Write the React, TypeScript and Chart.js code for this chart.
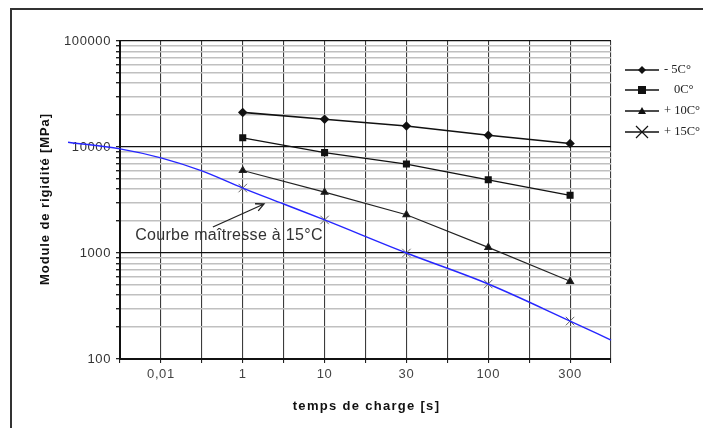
import React, { useEffect, useRef } from "react";
import { Chart, registerables } from "chart.js";

Chart.register(...registerables);

// x axis: evenly spaced positions 0..12, labels on odd positions
const xTickIndex = [1, 3, 5, 7, 9, 11];
const xTickLabels = ["0,01", "1", "10", "30", "100", "300"];

// load times 1, 10, 30, 100, 300 s
const timeIndex = [3, 5, 7, 9, 11];
const seriesMinus5 = [21200, 18300, 15800, 12900, 10800];
const seriesZero = [12200, 8850, 6900, 4900, 3500];
const seriesPlus10 = [6000, 3750, 2300, 1130, 540];
const seriesPlus15 = [4100, 2050, 1000, 510, 228];

// master curve at 15°C
const masterIndex = [-1.27, 0, 1, 2, 3, 4, 5, 7, 9, 11, 12];
const masterValues = [11100, 9600, 7900, 5950, 4100, 2900, 2050, 1000, 510, 228, 151];

const yDecades = [100, 1000, 10000, 100000];
const yDecadeLabels = ["100", "1000", "10000", "100000"];

const legendNames = ["- 5C°", "0C°", "+ 10C°", "+ 15C°"];

const SANS = '"Liberation Sans", Arial, sans-serif';
const SERIF = '"Liberation Serif", "Times New Roman", serif';

function pts(xs: number[], ys: number[]) {
  return xs.map((x, i) => ({ x, y: ys[i] }));
}

function drawMarker(ctx: CanvasRenderingContext2D, kind: string, x: number, y: number) {
  ctx.beginPath();
  if (kind === "diamond") {
    ctx.moveTo(x, y - 4); ctx.lineTo(x + 4, y); ctx.lineTo(x, y + 4); ctx.lineTo(x - 4, y); ctx.closePath(); ctx.fill();
  } else if (kind === "square") {
    ctx.fillRect(x - 4, y - 4, 8, 8);
  } else if (kind === "triangle") {
    ctx.moveTo(x, y - 4); ctx.lineTo(x + 4, y + 3); ctx.lineTo(x - 4, y + 3); ctx.closePath(); ctx.fill();
  } else {
    ctx.lineWidth = 1.2;
    ctx.moveTo(x - 6, y - 6); ctx.lineTo(x + 6, y + 6); ctx.moveTo(x + 6, y - 6); ctx.lineTo(x - 6, y + 6); ctx.stroke();
  }
}

const spacingPlugin = {
  id: "spacing",
  beforeDraw(chart: any) {
    (chart.ctx as any).letterSpacing = "0.6px";
  },
};

const overlayPlugin = {
  id: "overlay",
  afterDraw(chart: any) {
    const ctx: any = chart.ctx;
    const xs = chart.scales.x;
    const ys = chart.scales.y;
    ctx.save();
    // outer frame
    ctx.strokeStyle = "#333";
    ctx.lineWidth = 2;
    ctx.strokeRect(11, 9, 900, 700);

    // axis titles
    ctx.fillStyle = "#111";
    ctx.font = "bold 13px " + SANS;
    ctx.textAlign = "center";
    ctx.textBaseline = "middle";
    ctx.letterSpacing = "1.3px";
    ctx.fillText("temps de charge [s]", (chart.chartArea.left + chart.chartArea.right) / 2 + 1, 406);
    ctx.letterSpacing = "0.9px";
    ctx.save();
    ctx.translate(45, (chart.chartArea.top + chart.chartArea.bottom) / 2 - 1);
    ctx.rotate(-Math.PI / 2);
    ctx.fillText("Module de rigidité [MPa]", 0, 0);
    ctx.restore();

    // annotation
    ctx.letterSpacing = "0.3px";
    ctx.fillStyle = "#333";
    ctx.font = "16px " + SANS;
    ctx.textAlign = "left";
    ctx.fillText("Courbe maîtresse à 15°C", xs.getPixelForValue(0.37), ys.getPixelForValue(1447));
    const tx = xs.getPixelForValue(2.27), ty = ys.getPixelForValue(1760);
    const hx = xs.getPixelForValue(3.52), hy = ys.getPixelForValue(2900);
    const ang = Math.atan2(hy - ty, hx - tx);
    ctx.strokeStyle = "#222";
    ctx.lineWidth = 1.3;
    ctx.beginPath();
    ctx.moveTo(tx, ty); ctx.lineTo(hx, hy);
    ctx.moveTo(hx - 9 * Math.cos(ang - 0.45), hy - 9 * Math.sin(ang - 0.45));
    ctx.lineTo(hx, hy);
    ctx.lineTo(hx - 9 * Math.cos(ang + 0.45), hy - 9 * Math.sin(ang + 0.45));
    ctx.stroke();

    // legend
    ctx.letterSpacing = "0px";
    const kinds = ["diamond", "square", "triangle", "x"];
    const ly = [70, 90, 111, 132];
    const textX = [664, 674, 664, 664];
    ctx.font = "12.5px " + SERIF;
    ctx.textAlign = "left";
    ctx.textBaseline = "middle";
    for (let i = 0; i < 4; i++) {
      ctx.strokeStyle = "#111";
      ctx.fillStyle = "#111";
      ctx.lineWidth = 1.5;
      ctx.beginPath();
      ctx.moveTo(625, ly[i]); ctx.lineTo(659, ly[i]); ctx.stroke();
      drawMarker(ctx, kinds[i], 642, ly[i]);
      ctx.fillStyle = "#222";
      ctx.fillText(legendNames[i], textX[i], ly[i]);
    }
    ctx.restore();
  },
};

export default function App() {
  const ref = useRef<HTMLCanvasElement | null>(null);
  useEffect(() => {
    if (!ref.current) return;
    const isDecade = (v: number) => Math.abs(Math.log10(v) - Math.round(Math.log10(v))) < 1e-6;
    const chart = new Chart(ref.current, {
      type: "line",
      data: {
        datasets: [
          {
            label: "- 5C°",
            data: pts(timeIndex, seriesMinus5),
            borderColor: "#111",
            backgroundColor: "#111",
            borderWidth: 1.6,
            pointStyle: "rectRot",
            pointRadius: 3.6,
            tension: 0,
          },
          {
            label: "0C°",
            data: pts(timeIndex, seriesZero),
            borderColor: "#111",
            backgroundColor: "#111",
            borderWidth: 1.4,
            pointStyle: "rect",
            pointRadius: 4,
            tension: 0,
          },
          {
            label: "+ 10C°",
            data: pts(timeIndex, seriesPlus10),
            borderColor: "#222",
            backgroundColor: "#111",
            borderWidth: 1.1,
            pointStyle: "triangle",
            pointRadius: 4,
            tension: 0,
          },
          {
            label: "Courbe maîtresse",
            data: pts(masterIndex, masterValues),
            borderColor: "#2626ff",
            borderWidth: 1.4,
            pointRadius: 0,
            cubicInterpolationMode: "monotone",
            clip: false,
          } as any,
          {
            label: "+ 15C°",
            data: pts(timeIndex, seriesPlus15),
            showLine: false,
            borderColor: "#666",
            backgroundColor: "#666",
            pointStyle: "crossRot",
            pointRadius: 6,
            pointBorderWidth: 1,
          },
        ],
      },
      options: {
        responsive: false,
        animation: false,
        devicePixelRatio: 1,
        layout: { padding: { left: 0, top: 41, right: 92, bottom: 0 } },
        plugins: { legend: { display: false }, tooltip: { enabled: false } },
        scales: {
          x: {
            type: "linear",
            min: 0,
            max: 12,
            afterFit: (s: any) => { s.height = 69; },
            afterBuildTicks: (s: any) => {
              s.ticks = Array.from({ length: 13 }, (_, i) => ({ value: i }));
            },
            ticks: {
              autoSkip: false,
              maxRotation: 0,
              padding: 4,
              color: "#444",
              font: { family: SANS, size: 13 },
              callback: (v: any) => {
                const k = xTickIndex.indexOf(Number(v));
                return k >= 0 ? xTickLabels[k] : "";
              },
            },
            grid: { color: "#3c3c3c", lineWidth: 1.1, tickLength: 4, tickColor: "#222" },
            border: { color: "#111", width: 2 },
          },
          y: {
            type: "logarithmic",
            min: 100,
            max: 100000,
            afterFit: (s: any) => { s.width = 120; },
            afterBuildTicks: (s: any) => {
              const t: any[] = [];
              for (let e = 2; e <= 4; e++) {
                for (let m = 1; m <= 9; m++) t.push({ value: m * Math.pow(10, e) });
              }
              t.push({ value: 100000 });
              s.ticks = t;
            },
            ticks: {
              autoSkip: false,
              padding: 5,
              color: "#333",
              font: { family: SANS, size: 13 },
              callback: (v: any) => {
                const k = yDecades.indexOf(Number(v));
                return k >= 0 ? yDecadeLabels[k] : "";
              },
            },
            grid: {
              color: (c: any) => (isDecade(c.tick.value) ? "#111" : "#c0c0c0"),
              lineWidth: (c: any) => (isDecade(c.tick.value) ? 1.3 : 1.4),
              tickLength: 4,
              tickColor: "#222",
            },
            border: { color: "#111", width: 2 },
          },
        },
      },
      plugins: [spacingPlugin, overlayPlugin],
    } as any);
    return () => chart.destroy();
  }, []);
  return (
    <div style={{ position: "fixed", left: 0, top: 0, width: 703, height: 428, overflow: "hidden", background: "#fff" }}>
      <canvas ref={ref} width={703} height={428} style={{ display: "block" }} />
    </div>
  );
}
